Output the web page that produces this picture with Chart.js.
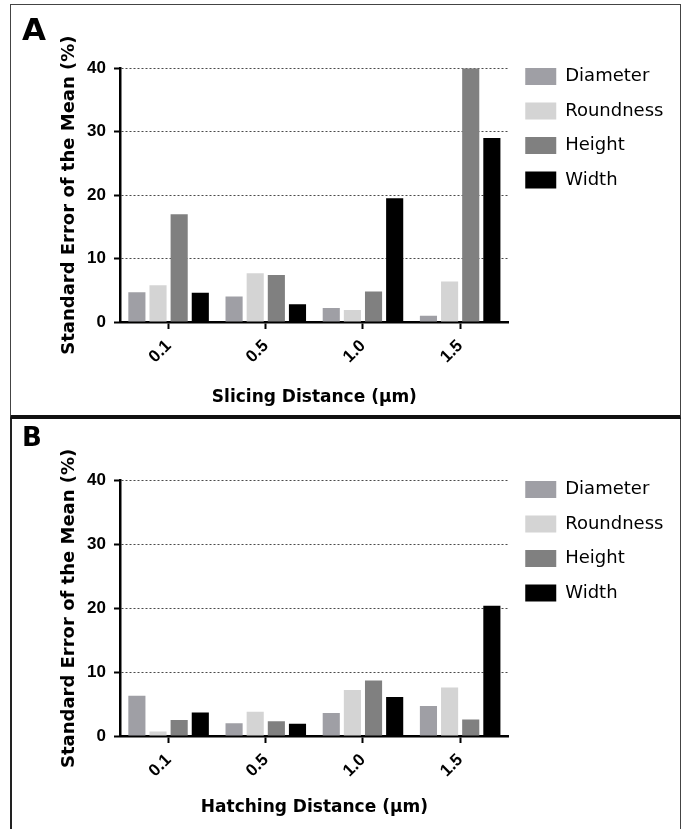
<!DOCTYPE html>
<html>
<head>
<meta charset="utf-8">
<script src="https://cdn.jsdelivr.net/npm/chart.js@4.4.0/dist/chart.umd.min.js"></script>
<style>
	body { margin: 0; background: #fff; width: 681px; height: 829px; position: relative; overflow: hidden; }
	.frame { position: absolute; box-sizing: border-box; }
	#frameA { left: 10px; top: 4px; width: 671px; height: 415px; border: 1.5px solid #444; border-bottom: 4px solid #111; }
	#frameB { left: 10px; top: 419px; width: 671px; height: 420px; border-left: 2px solid #222; border-right: 1.5px solid #444; }
	canvas { position: absolute; left: 12px; }
	#chartA { top: 7px; }
	#chartB { top: 420px; }
</style>
</head>
<body>
<div class="frame" id="frameA"></div>
<div class="frame" id="frameB"></div>
<canvas id="chartA" width="666" height="408"></canvas>
<canvas id="chartB" width="666" height="409"></canvas>
<script>
const categories = ["0.1", "0.5", "1.0", "1.5"];
const seriesNames = ["Diameter", "Roundness", "Height", "Width"];
const seriesColors = ["#9f9fa5", "#d4d4d4", "#808080", "#000000"];

// A: slicing distance
const slicingDiameter = [4.7, 4.0, 2.2, 1.0];
const slicingRoundness = [5.8, 7.7, 1.9, 6.4];
const slicingHeight = [17.0, 7.4, 4.8, 40.0];
const slicingWidth = [4.6, 2.8, 19.5, 29.0];

// B: hatching distance
const hatchingDiameter = [6.3, 2.0, 3.6, 4.7];
const hatchingRoundness = [0.7, 3.8, 7.2, 7.6];
const hatchingHeight = [2.5, 2.3, 8.7, 2.6];
const hatchingWidth = [3.7, 1.9, 6.1, 20.4];

const yMin = 0;
const yMax = 40;
const yStep = 10;

const yTitle = "Standard Error of the Mean (%)";
const sans = "'Liberation Sans', Arial, sans-serif";
const wide = "'DejaVu Sans', sans-serif";

function makeChart(id, letter, letterSize, letterPad, xTitle, xTitlePad, values) {
	const ctx = document.getElementById(id).getContext("2d");
	return new Chart(ctx, {
		type: "bar",
		data: {
			labels: categories,
			datasets: values.map((v, i) => ({
				label: seriesNames[i],
				data: v,
				backgroundColor: seriesColors[i],
				borderWidth: 0,
				categoryPercentage: 0.87,
				barPercentage: 0.81,
			})),
		},
		options: {
			responsive: false,
			animation: false,
			devicePixelRatio: 1,
			layout: { padding: { left: 10, right: 7, top: 0, bottom: 0 } },
			plugins: {
				tooltip: { enabled: false },
				title: {
					display: true,
					text: letter,
					align: "start",
					color: "#000",
					font: { family: wide, size: letterSize, weight: "bold" },
					padding: letterPad,
				},
				legend: {
					position: "right",
					align: "start",
					// blank title only pushes the items down to the plot top
					title: { display: true, text: " ", font: { size: 10 }, padding: { top: 32, bottom: 0 } },
					labels: {
						boxWidth: 31,
						boxHeight: 17,
						padding: 16.5,
						color: "#000",
						font: { family: wide, size: 18 },
					},
				},
			},
			scales: {
				x: {
					afterFit: (s) => { s.height = 93; },
					grid: {
						display: true,
						drawOnChartArea: false,
						offset: false,
						drawTicks: true,
						tickLength: 7,
						tickWidth: 2,
						tickColor: "#000",
					},
					border: { display: true, color: "#000", width: 2.5 },
					ticks: {
						autoSkip: false,
						minRotation: 45,
						maxRotation: 45,
						padding: 7,
						color: "#000",
						font: { family: sans, size: 17, weight: "bold" },
					},
					title: {
						display: true,
						text: xTitle,
						color: "#000",
						font: { family: wide, size: 17, weight: "bold" },
						padding: { top: 0, bottom: xTitlePad },
					},
				},
				y: {
					min: yMin,
					max: yMax,
					afterFit: (s) => { s.width = 98; },
					grid: {
						color: (c) => (c.tick && c.tick.value === 0 ? "rgba(0,0,0,0)" : "#4a4a4a"),
						lineWidth: 1,
						drawTicks: true,
						tickLength: 6,
						tickWidth: 2,
						tickColor: "#000",
					},
					border: { display: true, color: "#000", width: 2.5, dash: [2, 2] },
					ticks: {
						stepSize: yStep,
						padding: 8,
						color: "#000",
						font: { family: sans, size: 17, weight: "bold" },
					},
					title: {
						display: true,
						text: yTitle,
						color: "#000",
						font: { family: wide, size: 18, weight: "bold" },
						padding: { top: 37, bottom: 0 },
					},
				},
			},
		},
	});
}

makeChart("chartA", "A", 31, { top: 6, bottom: 18 }, "Slicing Distance (\u03bcm)", 7,
	[slicingDiameter, slicingRoundness, slicingHeight, slicingWidth]);
makeChart("chartB", "B", 26, { top: 4, bottom: 25.5 }, "Hatching Distance (\u03bcm)", 11,
	[hatchingDiameter, hatchingRoundness, hatchingHeight, hatchingWidth]);
</script>
</body>
</html>
